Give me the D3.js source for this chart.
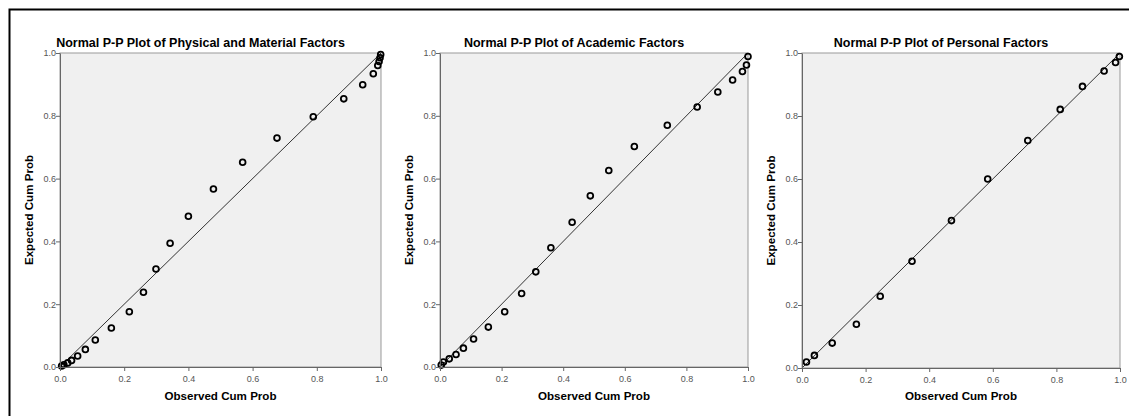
<!DOCTYPE html>
<html>
<head>
  <style>
    body { margin: 0; background: #fff; }
    svg { display: block; font-family: "Liberation Sans", Arial, sans-serif; }
    .title { font-size: 12.5px; font-weight: bold; fill: #000; }
    .axis-label { font-size: 11.6px; font-weight: bold; fill: #000; }
    .axis text { font-size: 9px; fill: #555; font-family: "Liberation Sans", Arial, sans-serif; }
    .axis path, .axis line { stroke: #666; }
    .pt { fill: none; stroke: #000; stroke-width: 1.8px; }
    .ref { stroke: #333; stroke-width: 1px; }
  </style>
</head>
<body>
  <script src="https://d3js.org/d3.v7.min.js"></script>
  <script>
    var width = 1129, height = 416;

    var titles = [
      "Normal P-P Plot of Physical and Material Factors",
      "Normal P-P Plot of Academic Factors",
      "Normal P-P Plot of Personal Factors"
    ];
    var xLabel = "Observed Cum Prob",
        yLabel = "Expected Cum Prob";
    var ticks = [0, 0.2, 0.4, 0.6, 0.8, 1.0];

    // observed / expected cumulative probabilities
    var physObs = [.005, .012, .024, .036, .055, .079, .110, .160, .216, .260, .299, .343, .400, .478, .569, .676, .789, .884, .943, .976, .990, .994, .997, .999];
    var physExp = [.003, .007, .013, .021, .035, .056, .086, .124, .176, .238, .312, .394, .480, .567, .652, .729, .797, .854, .899, .934, .960, .973, .985, .995];
    var acadObs = [.004, .011, .030, .052, .076, .109, .157, .210, .265, .311, .360, .429, .488, .548, .631, .738, .835, .902, .950, .982, .995, 1.0];
    var acadExp = [.006, .016, .026, .040, .060, .089, .127, .176, .234, .303, .380, .461, .545, .626, .702, .770, .828, .876, .914, .941, .962, .989];
    var persObs = [.014, .039, .095, .171, .246, .346, .470, .584, .710, .812, .882, .950, .986, .998];
    var persExp = [.019, .040, .079, .139, .228, .339, .468, .600, .722, .821, .894, .943, .970, .989];

    var panels = [
      {title: titles[0], obs: physObs, exp: physExp, x0: 60, x1: 381, y0: 367, y1: 53, ylab: 29},
      {title: titles[1], obs: acadObs, exp: acadExp, x0: 440, x1: 748, y0: 367, y1: 53, ylab: 409},
      {title: titles[2], obs: persObs, exp: persExp, x0: 802, x1: 1120, y0: 368, y1: 53, ylab: 771}
    ];

    var svg = d3.select("body").append("svg")
        .attr("width", width)
        .attr("height", height);

    svg.append("rect")
        .attr("x", 0).attr("y", 0).attr("width", width).attr("height", height)
        .attr("fill", "#fff");

    // outer frame (only top and left visible in the original)
    svg.append("path")
        .attr("d", "M9.5," + height + "V9.5H" + width)
        .attr("fill", "none").attr("stroke", "#000").attr("stroke-width", 2);

    panels.forEach(function(p) {
      var x = d3.scaleLinear().domain([0, 1]).range([p.x0, p.x1]);
      var y = d3.scaleLinear().domain([0, 1]).range([p.y0, p.y1]);
      var g = svg.append("g");

      g.append("rect")
          .attr("x", x(0)).attr("y", y(1))
          .attr("width", x(1) - x(0)).attr("height", y(0) - y(1))
          .attr("fill", "#f0f0f0")
          .attr("stroke", "#999");

      g.append("line")
          .attr("class", "ref")
          .attr("x1", x(0)).attr("y1", y(0))
          .attr("x2", x(1)).attr("y2", y(1));

      g.selectAll(".pt")
        .data(p.obs)
        .enter().append("circle")
          .attr("class", "pt")
          .attr("cx", function(d) { return x(d); })
          .attr("cy", function(d, i) { return y(p.exp[i]); })
          .attr("r", 2.9);

      g.append("g")
          .attr("class", "axis")
          .attr("transform", "translate(0," + y(0) + ")")
          .call(d3.axisBottom(x).tickValues(ticks).tickFormat(d3.format(".1f")).tickSize(4).tickSizeOuter(0))
          .call(function(a) { a.selectAll("text").attr("dy", "0.85em"); });

      g.append("g")
          .attr("class", "axis")
          .attr("transform", "translate(" + x(0) + ",0)")
          .call(d3.axisLeft(y).tickValues(ticks).tickFormat(d3.format(".1f")).tickSize(4).tickSizeOuter(0))
          .call(function(a) { a.selectAll("text").attr("x", -4); });

      g.append("text")
          .attr("class", "title")
          .attr("x", (x(0) + x(1)) / 2 - 20)
          .attr("y", 47)
          .attr("text-anchor", "middle")
          .text(p.title);

      g.append("text")
          .attr("class", "axis-label")
          .attr("x", (x(0) + x(1)) / 2)
          .attr("y", 400)
          .attr("text-anchor", "middle")
          .text(xLabel);

      g.append("text")
          .attr("class", "axis-label")
          .attr("transform", "translate(" + (p.ylab + 4) + "," + ((y(0) + y(1)) / 2) + ") rotate(-90)")
          .attr("text-anchor", "middle")
          .text(yLabel);
    });
  </script>
</body>
</html>
